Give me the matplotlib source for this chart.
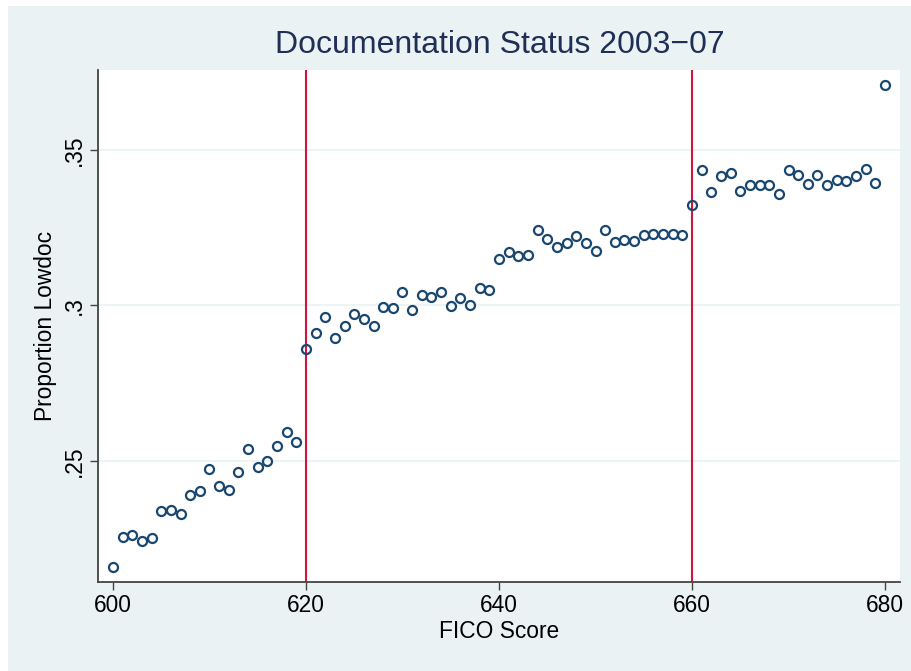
import matplotlib
matplotlib.use('Agg')
import matplotlib.pyplot as plt
from matplotlib.patches import Rectangle

# FICO score and proportion of lowdoc loans
fico = list(range(600, 681))
lowdoc = [
    0.2160, 0.2256, 0.2261, 0.2244, 0.2251, 0.2340, 0.2342, 0.2330, 0.2391, 0.2404,
    0.2474, 0.2421, 0.2407, 0.2464, 0.2539, 0.2482, 0.2501, 0.2548, 0.2594, 0.2560,
    0.2860, 0.2913, 0.2962, 0.2895, 0.2933, 0.2974, 0.2956, 0.2935, 0.2995, 0.2991,
    0.3044, 0.2985, 0.3033, 0.3027, 0.3044, 0.2997, 0.3024, 0.3002, 0.3055, 0.3051,
    0.3150, 0.3172, 0.3159, 0.3163, 0.3244, 0.3215, 0.3187, 0.3202, 0.3223, 0.3200,
    0.3176, 0.3244, 0.3205, 0.3212, 0.3207, 0.3228, 0.3229, 0.3231, 0.3231, 0.3227,
    0.3323, 0.3437, 0.3364, 0.3415, 0.3426, 0.3367, 0.3386, 0.3388, 0.3387, 0.3359,
    0.3436, 0.3419, 0.3392, 0.3420, 0.3388, 0.3404, 0.3401, 0.3415, 0.3439, 0.3395,
    0.3709,
]
cutoffs = [620, 660]
xticks = [600, 620, 640, 660, 680]
yticks = [0.25, 0.30, 0.35]
ytick_labels = ['.25', '.3', '.35']

bg = '#EAF2F3'
navy = '#1A476F'
red = '#D0143C'

plt.rcParams['font.family'] = ['Liberation Sans', 'DejaVu Sans']

fig = plt.figure(figsize=(9.12, 6.71), dpi=100, facecolor=bg)
# белая кайма слева и сверху
fig.patches.append(Rectangle((0, 0), 8 / 912, 1, transform=fig.transFigure,
                             facecolor='white', edgecolor='none'))
fig.patches.append(Rectangle((0, 1 - 6 / 671), 1, 6 / 671, transform=fig.transFigure,
                             facecolor='white', edgecolor='none'))

ax = fig.add_axes([98 / 912, 89 / 671, 802 / 912, 512 / 671])
ax.set_facecolor('white')

for c in cutoffs:
    ax.axvline(c, color=red, linewidth=1.5, zorder=2)

ax.plot(fico, lowdoc, linestyle='none', marker='o', markersize=6.5,
        markerfacecolor='none', markeredgecolor=navy, markeredgewidth=1.6, zorder=3)

ax.set_xlim(598.45, 681.55)
ax.set_ylim(0.2111, 0.3757)
ax.set_xticks(xticks)
ax.set_yticks(yticks)
ax.set_yticklabels(ytick_labels, rotation=90, va='center')
ax.tick_params(axis='both', direction='out', length=6, width=1, color='#444444',
               labelsize=16.4, labelcolor='black', pad=3)
ax.grid(axis='y', color=bg, linewidth=1.2)
ax.set_axisbelow(True)

for side in ['top', 'right']:
    ax.spines[side].set_visible(False)
for side in ['left', 'bottom']:
    ax.spines[side].set_color('#444444')
    ax.spines[side].set_linewidth(1.3)

ax.set_xlabel('FICO Score', fontsize=16.4, labelpad=2)
ax.set_ylabel('Proportion Lowdoc', fontsize=16.4, labelpad=4)
fig.text(499.5 / 912, 1 - 45 / 671, 'Documentation Status 2003\u221207', ha='center', va='center',
         fontsize=23, color='#1F2F56')

fig.savefig('out.png', dpi=100, facecolor=fig.get_facecolor())
